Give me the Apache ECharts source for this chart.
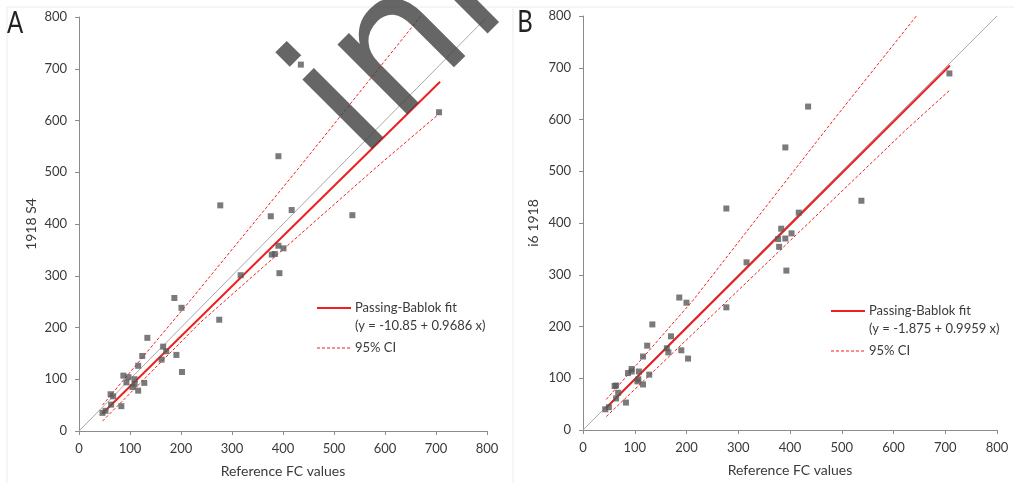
<!DOCTYPE html>
<html>
<head>
<meta charset="utf-8">
<script src="https://cdn.jsdelivr.net/npm/echarts@6/dist/echarts.min.js"></script>
<style>
  html, body { margin: 0; padding: 0; background: #fff; }
  #chart { width: 1014px; height: 483px; }
</style>
</head>
<body>
<div id="chart"></div>
<script>
// 坐标轴刻度
const axisMin = 0;
const axisMax = 800;
const axisStep = 100;
const identity = [0, 800];

// A: 1918 S4 vs reference
const pointsA = [
  [435, 708], [706, 616], [391, 531], [277, 436], [536, 417], [417, 427],
  [376, 415], [391, 358], [401, 353], [378, 341], [384, 342], [393, 305],
  [317, 301], [187, 257], [201, 238], [275, 215], [134, 180], [165, 163],
  [171, 154], [162, 138], [191, 147], [124, 145], [202, 114], [116, 126],
  [87, 107], [97, 104], [93, 94], [109, 100], [109, 91], [105, 85],
  [128, 93], [116, 78], [62, 71], [67, 67], [63, 51], [83, 48], [46, 35], [52, 39],
];
const fitA = [-10.85, 0.9686]; // 截距, 斜率
const fitRangeA = [46, 708];
const ciUpperA = [[46, 50], [218, 252], [430, 507], [672, 804]];
const ciLowerA = [[46, 19], [237, 209], [580, 507], [706, 613]];

// B: i6 1918 vs reference
const pointsB = [
  [435, 625], [708, 689], [391, 546], [277, 428], [538, 443], [417, 420],
  [383, 389], [377, 369], [391, 370], [403, 380], [379, 354], [393, 308],
  [316, 324], [186, 256], [200, 246], [277, 237], [134, 204], [170, 181],
  [162, 158], [165, 150], [190, 154], [124, 163], [203, 138], [116, 142],
  [87, 110], [94, 118], [94, 113], [108, 113], [107, 98], [105, 94],
  [128, 107], [116, 88], [61, 85], [64, 86], [68, 72], [64, 61], [83, 53],
  [43, 40], [50, 44],
];
const fitB = [-1.875, 0.9959];
const fitRangeB = [45, 709];
const ciUpperB = [[45, 59], [213, 251], [484, 599], [645, 801]];
const ciLowerB = [[45, 26], [250, 222], [623, 579], [708, 656]];

const panelLabels = ["A", "B"];
const xName = "Reference FC values";
const yNames = ["1918 S4", "i6 1918"];
const legendNames = ["Passing-Bablok fit", "95% CI"];

const FONT = 'Lato, "Liberation Sans", sans-serif';
const RED = "#ef1f1f";
const AXIS_GRAY = "#8c8c8c";
const TEXT = "#3a3a3a";

function fitLine(fit, range) {
  return range.map((x) => [x, fit[0] + fit[1] * x]);
}

function eqText(fit) {
  return "(y = " + fit[0] + " + " + fit[1] + " x)";
}

function makeAxis(i, isX) {
  return {
    type: "value",
    gridIndex: i,
    min: axisMin,
    max: axisMax,
    interval: axisStep,
    name: isX ? xName : yNames[i],
    nameLocation: "middle",
    nameGap: isX ? 33 : (i === 0 ? 41 : 43),
    nameTextStyle: { fontFamily: FONT, fontSize: 14, color: TEXT },
    axisLine: { show: true, onZero: false, lineStyle: { color: AXIS_GRAY, width: 1 } },
    axisTick: { show: true, length: 4, lineStyle: { color: AXIS_GRAY } },
    axisLabel: { fontFamily: FONT, fontSize: 13, color: TEXT, margin: isX ? 11 : 12 },
    splitLine: { show: false },
  };
}

function panelSeries(i, points, fit, range, ciUp, ciLow) {
  const base = { xAxisIndex: i, yAxisIndex: i, silent: true };
  return [
    {
      ...base,
      type: "line",
      data: identity.map((v) => [v, v]),
      symbol: "none",
      lineStyle: { color: "#a8a8a8", width: 1 },
      z: 1,
    },
    {
      ...base,
      type: "line",
      data: ciUp,
      symbol: "none",
      lineStyle: { color: RED, width: 1, type: [3, 2] },
      z: 2,
    },
    {
      ...base,
      type: "line",
      data: ciLow,
      symbol: "none",
      lineStyle: { color: RED, width: 1, type: [3, 2] },
      z: 2,
    },
    {
      ...base,
      type: "line",
      data: fitLine(fit, range),
      symbol: "none",
      lineStyle: { color: RED, width: 2 },
      z: 3,
    },
    {
      ...base,
      type: "scatter",
      data: points,
      symbol: "rect",
      symbolSize: 6,
      itemStyle: { color: "#595959" },
      z: 5,
    },
  ];
}

function legendGraphic(x0, y0, fit) {
  // 图例: 实线 + 两行文字, 虚线 + 95% CI
  return [
    { type: "line", shape: { x1: x0, y1: y0, x2: x0 + 34, y2: y0 }, style: { stroke: RED, lineWidth: 2 } },
    { type: "text", x: x0 + 38, y: y0, style: { text: legendNames[0], font: "13px " + FONT, fill: TEXT, verticalAlign: "middle" } },
    { type: "text", x: x0 + 38, y: y0 + 18, style: { text: eqText(fit), font: "13px " + FONT, fill: TEXT, verticalAlign: "middle" } },
    { type: "line", shape: { x1: x0, y1: y0 + 40, x2: x0 + 34, y2: y0 + 40 }, style: { stroke: RED, lineWidth: 1, lineDash: [3, 2] } },
    { type: "text", x: x0 + 38, y: y0 + 40, style: { text: legendNames[1], font: "13px " + FONT, fill: TEXT, verticalAlign: "middle" } },
  ];
}

const chart = echarts.init(document.getElementById("chart"));

chart.setOption({
  backgroundColor: "#fff",
  animation: false,
  grid: [
    { left: 79, top: 17, width: 408, height: 415 },
    { left: 583, top: 16, width: 414, height: 414 },
  ],
  xAxis: [makeAxis(0, true), makeAxis(1, true)],
  yAxis: [makeAxis(0, false), makeAxis(1, false)],
  series: [
    ...panelSeries(0, pointsA, fitA, fitRangeA, ciUpperA, ciLowerA),
    ...panelSeries(1, pointsB, fitB, fitRangeB, ciUpperB, ciLowerB),
  ],
  graphic: [
    // 边框
    { type: "line", shape: { x1: 7, y1: 7, x2: 1014, y2: 7 }, style: { stroke: "#ececec", lineWidth: 1 } },
    { type: "line", shape: { x1: 7, y1: 7, x2: 7, y2: 483 }, style: { stroke: "#ececec", lineWidth: 1 } },
    { type: "line", shape: { x1: 513, y1: 7, x2: 513, y2: 483 }, style: { stroke: "#ececec", lineWidth: 1 } },
    // 面板字母
    { type: "text", x: 15, y: 23, style: { text: panelLabels[0], font: "30px " + FONT, fill: "#222", align: "center", verticalAlign: "middle" }, scaleX: 0.8 },
    { type: "text", x: 525, y: 22, style: { text: panelLabels[1], font: "30px " + FONT, fill: "#222", align: "center", verticalAlign: "middle" }, scaleX: 0.8 },
    ...legendGraphic(317, 308, fitA),
    ...legendGraphic(831, 311, fitB),
    // 水印
    {
      type: "text",
      x: 327,
      y: 128,
      rotation: Math.PI / 4,
      z: 100,
      silent: true,
      style: { text: "inn", font: '180px "DejaVu Sans"', fill: "rgba(64,64,64,0.8)", verticalAlign: "middle" },
    },
  ],
});
</script>
</body>
</html>
